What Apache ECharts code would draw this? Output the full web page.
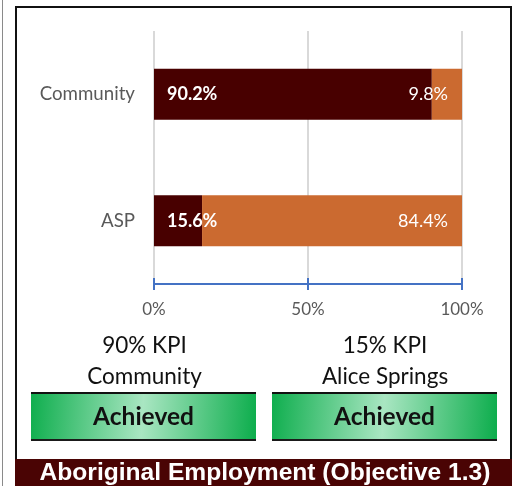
<!DOCTYPE html>
<html><head><meta charset="utf-8">
<script src="https://cdn.jsdelivr.net/npm/echarts@6/dist/echarts.min.js"></script>
<style>html,body{margin:0;padding:0;background:#fff}#c{width:514px;height:486px}</style>
</head><body><div id="c"></div>
<script>
const categories = ['Community', 'ASP'];
const aboriginalShare = [90.2, 15.6];
const otherShare = [9.8, 84.4];
const xTicks = [0, 50, 100];
const kpiLines = [['90% KPI', 'Community'], ['15% KPI', 'Alice Springs']];
const kpiStatus = ['Achieved', 'Achieved'];
const footerTitle = 'Aboriginal Employment (Objective 1.3)';

const FONT = 'Lato, "Open Sans", sans-serif';
const chart = echarts.init(document.getElementById('c'), null, {renderer: 'canvas'});

function greenBox(x, label) {
  return {
    type: 'group', left: x, top: 392,
    children: [
      {type: 'rect', shape: {x: 0, y: 0, width: 225, height: 49},
        style: {fill: new echarts.graphic.LinearGradient(0, 0, 1, 0.3, [
          {offset: 0, color: '#0fae4e'}, {offset: 0.5, color: '#a9e6c2'}, {offset: 1, color: '#0fae4e'}])}},
      {type: 'rect', shape: {x: 0, y: 0, width: 225, height: 2}, style: {fill: '#111'}},
      {type: 'rect', shape: {x: 0, y: 47, width: 225, height: 2}, style: {fill: '#1a1a1a'}},
      {type: 'text', style: {x: 112.5, y: 25, text: label, fill: '#111', font: 'bold 24.5px ' + FONT,
        textAlign: 'center', textVerticalAlign: 'middle'}}
    ]
  };
}
function kpiText(cx, lines) {
  return [
    {type: 'text', style: {x: cx, y: 346, text: lines[0], fill: '#111', font: '22.5px ' + FONT, textAlign: 'center', textVerticalAlign: 'middle'}},
    {type: 'text', style: {x: cx, y: 377, text: lines[1], fill: '#111', font: '22.5px ' + FONT, textAlign: 'center', textVerticalAlign: 'middle'}}
  ];
}

chart.setOption({
  animation: false,
  grid: {left: 154, right: 52, top: 31, bottom: 202, containLabel: false},
  xAxis: [{
    type: 'value', min: xTicks[0], max: xTicks[xTicks.length - 1], interval: xTicks[1] - xTicks[0],
    axisLine: {show: true, lineStyle: {color: '#4472c4', width: 2}},
    axisTick: {show: true, length: 6, lineStyle: {color: '#4472c4', width: 2}},
    axisLabel: {formatter: '{value}%', color: '#595959', fontSize: 17, fontFamily: FONT, margin: 17},
    splitLine: {show: true, lineStyle: {color: '#d9d9d9', width: 2}}
  }, {
    type: 'value', position: 'bottom', min: xTicks[0], max: xTicks[xTicks.length - 1], interval: xTicks[1] - xTicks[0],
    axisLine: {show: false},
    axisTick: {show: true, inside: true, length: 6, lineStyle: {color: '#4472c4', width: 2}},
    axisLabel: {show: false}, splitLine: {show: false}
  }],
  yAxis: {
    type: 'category', data: categories, inverse: true,
    axisLine: {show: false}, axisTick: {show: false},
    axisLabel: {color: '#595959', fontSize: 18.7, fontFamily: FONT, margin: 19}
  },
  series: [{
    type: 'bar', stack: 'total', data: aboriginalShare, barWidth: 51, itemStyle: {color: '#480000'},
    label: {show: true, position: 'insideLeft', distance: 13, formatter: p => p.value.toFixed(1) + '%',
      color: '#fff', fontWeight: 'bold', fontSize: 18, fontFamily: FONT}
  }, {
    type: 'bar', stack: 'total', data: otherShare, barWidth: 51, itemStyle: {color: '#cb6a30'},
    label: {show: true, position: 'insideRight', distance: 14, formatter: p => p.value.toFixed(1) + '%',
      color: '#fff', fontSize: 18, fontFamily: FONT}
  }],
  graphic: [
    {type: 'rect', shape: {x: 2, y: 0, width: 1, height: 486}, style: {fill: '#8a8a8a'}},
    {type: 'rect', shape: {x: 15, y: 6, width: 2, height: 480}, style: {fill: '#111'}},
    {type: 'rect', shape: {x: 15, y: 6, width: 497, height: 2}, style: {fill: '#111'}},
    {type: 'rect', shape: {x: 510, y: 6, width: 2, height: 480}, style: {fill: '#111'}},
    ...kpiText(144.5, kpiLines[0]),
    ...kpiText(385, kpiLines[1]),
    greenBox(31, kpiStatus[0]),
    greenBox(272, kpiStatus[1]),
    {type: 'rect', shape: {x: 15, y: 459, width: 497, height: 27}, style: {fill: '#4a0404'}},
    {type: 'text', style: {x: 265, y: 473, text: footerTitle, fill: '#fff', font: 'bold 24.6px "Liberation Sans", Arial, sans-serif',
      textAlign: 'center', textVerticalAlign: 'middle'}}
  ]
});
</script></body></html>
